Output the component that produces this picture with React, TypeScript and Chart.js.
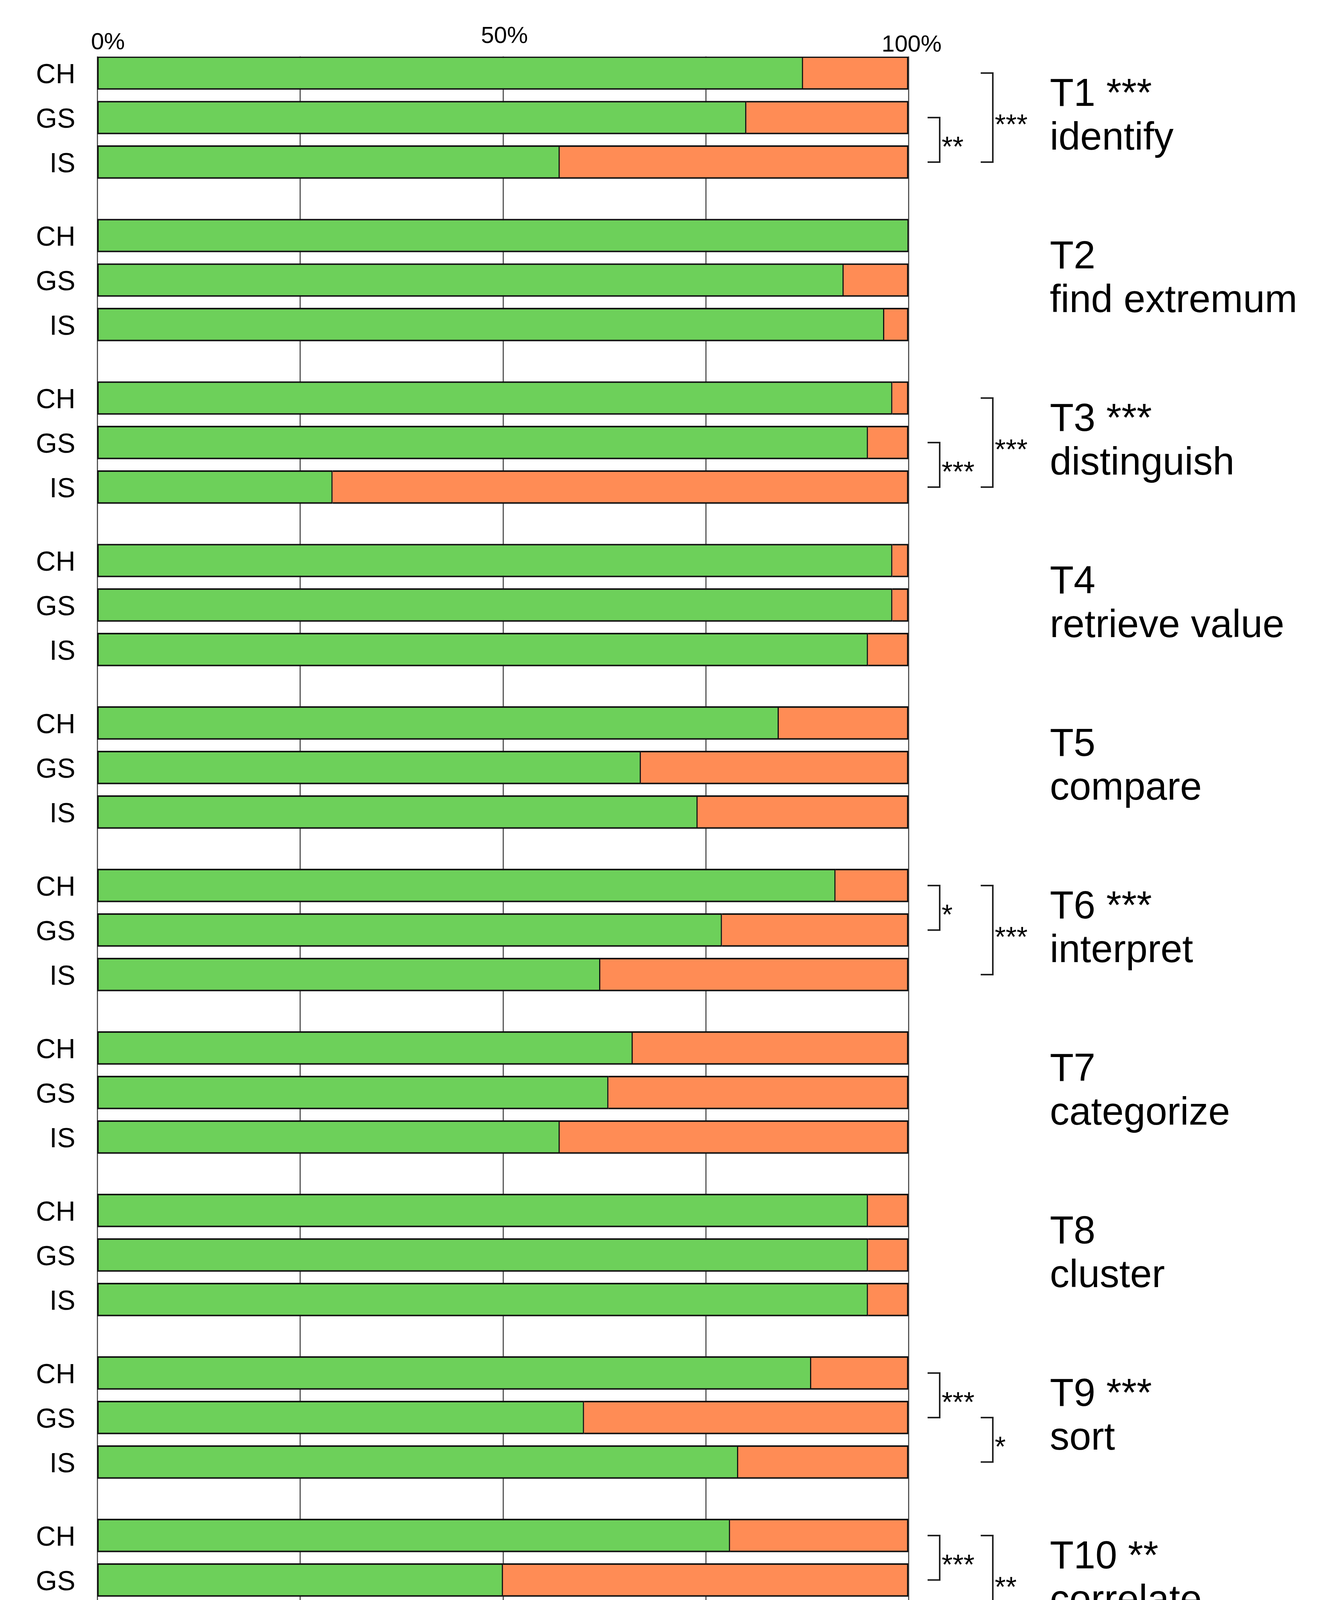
import React, { useEffect, useRef } from 'react';
import { Chart, registerables } from 'chart.js';

Chart.register(...registerables);

// ---------- data ----------
const TASKS = ['T1', 'T2', 'T3', 'T4', 'T5', 'T6', 'T7', 'T8', 'T9', 'T10', 'T11'];
const TASK_STARS = ['***', '', '***', '', '', '***', '', '', '***', '**', ''];
const TASK_NAMES = [
  'identify',
  'find extremum',
  'distinguish',
  'retrieve value',
  'compare',
  'interpret',
  'categorize',
  'cluster',
  'sort',
  'correlate',
  'locate',
];
const MAPS = ['CH', 'GS', 'IS'];
const CH_CORRECT = [87, 100, 98, 98, 84, 91, 66, 95, 88, 78, 89];
const GS_CORRECT = [80, 92, 95, 98, 67, 77, 63, 95, 60, 50, 77];
const IS_CORRECT = [57, 97, 29, 95, 74, 62, 57, 95, 79, 54, 75];

const LEGEND_LABELS = ['correct answer', 'incorrect answer'];
const LEGEND_SPLIT = 50;

const X_TICK_VALUES = [0, 50, 100];
const X_TICK_LABELS = ['0%', '50%', '100%'];
const GRID_VALUES = [0, 25, 50, 75, 100];

// significance brackets: task index, from map, to map, column (0 inner, 1 outer), label
const SIG_TASK = [0, 0, 2, 2, 5, 5, 8, 8, 9, 9];
const SIG_FROM = [1, 0, 1, 0, 0, 0, 0, 1, 0, 0];
const SIG_TO = [2, 2, 2, 2, 1, 2, 1, 2, 1, 2];
const SIG_COL = [0, 1, 0, 1, 0, 1, 0, 1, 0, 1];
const SIG_LABEL = ['**', '***', '***', '***', '*', '***', '***', '*', '***', '**'];

const NOTES = [
  'CH: choropleth map, GS: graduated symbols map; IS: isoline map',
  'statistical significance: *** p < 0.001, ** p < 0.010, * p < 0.050',
];

// ---------- layout (not data) ----------
const W = 3413;
const H = 5142;
const GROUP_STEP = 3.65;
const LEGEND_POS = 39.82;
const Y_MIN = -0.3685;
const Y_MAX = 40.195;
const BAR_THICK = 85;
const FONT = '"Liberation Sans", Arial, Helvetica, sans-serif';
const GREEN = '#6dd05a';
const ORANGE = '#ff8c55';
const EDGE = '#111111';

export default function App() {
  const ref = useRef<HTMLCanvasElement | null>(null);

  useEffect(() => {
    document.body.style.margin = '0';
    const canvas = ref.current;
    if (!canvas) return;

    const series = [CH_CORRECT, GS_CORRECT, IS_CORRECT];
    const rows: { pos: number; v: number; map: number }[] = [];
    TASKS.forEach((_, g) => {
      MAPS.forEach((__, k) => {
        rows.push({ pos: g * GROUP_STEP + k, v: series[k][g], map: k });
      });
    });

    const correctData = rows.map((r) => ({ x: r.v, y: r.pos }));
    correctData.push({ x: LEGEND_SPLIT, y: LEGEND_POS });
    const wrongData = rows.map((r) => ({ x: 100 - r.v, y: r.pos }));
    wrongData.push({ x: 100 - LEGEND_SPLIT, y: LEGEND_POS });

    const decor = {
      id: 'decor',
      beforeDatasetsDraw(chart: any) {
        const ctx = chart.ctx;
        const xs = chart.scales.x;
        const ys = chart.scales.y;
        const top = ys.getPixelForValue(0) - BAR_THICK / 2;
        const bottom = ys.getPixelForValue((TASKS.length - 1) * GROUP_STEP + 2) + BAR_THICK / 2;
        ctx.save();
        ctx.strokeStyle = '#555555';
        ctx.lineWidth = 3;
        GRID_VALUES.forEach((v) => {
          const x = Math.round(xs.getPixelForValue(v)) + 0.5;
          ctx.beginPath();
          ctx.moveTo(x, top);
          ctx.lineTo(x, bottom);
          ctx.stroke();
        });
        ctx.restore();
      },
      afterDraw(chart: any) {
        const ctx = chart.ctx;
        const xs = chart.scales.x;
        const ys = chart.scales.y;
        const right = chart.chartArea.right;
        ctx.save();
        ctx.fillStyle = '#000';

        // x tick labels (staggered like the original)
        ctx.font = `60px ${FONT}`;
        const tickAlign = ['left', 'center', 'center'];
        const tickDx = [-16, 4, 8];
        const tickBase = [126, 110, 132];
        X_TICK_VALUES.forEach((v, i) => {
          ctx.textAlign = tickAlign[i];
          ctx.textBaseline = 'alphabetic';
          ctx.fillText(X_TICK_LABELS[i], xs.getPixelForValue(v) + tickDx[i], tickBase[i]);
        });

        // map labels
        ctx.font = `70px ${FONT}`;
        ctx.textAlign = 'right';
        rows.forEach((r) => {
          ctx.fillText(MAPS[r.map], xs.getPixelForValue(0) - 56, ys.getPixelForValue(r.pos) + 26);
        });

        // task titles
        ctx.font = `100px ${FONT}`;
        ctx.textAlign = 'left';
        TASKS.forEach((t, g) => {
          const c = ys.getPixelForValue(g * GROUP_STEP + 1);
          const title = TASK_STARS[g] ? `${t} ${TASK_STARS[g]}` : t;
          ctx.fillText(title, right + 362, c - 30);
          ctx.fillText(TASK_NAMES[g], right + 362, c + 82);
        });

        // significance brackets
        ctx.strokeStyle = '#222';
        ctx.lineWidth = 4;
        ctx.font = `72px ${FONT}`;
        SIG_TASK.forEach((g, i) => {
          const y1 = ys.getPixelForValue(g * GROUP_STEP + SIG_FROM[i]);
          const y2 = ys.getPixelForValue(g * GROUP_STEP + SIG_TO[i]);
          const xv = right + (SIG_COL[i] === 0 ? 80 : 216);
          ctx.beginPath();
          ctx.moveTo(xv - 31, y1);
          ctx.lineTo(xv, y1);
          ctx.lineTo(xv, y2);
          ctx.lineTo(xv - 31, y2);
          ctx.stroke();
          ctx.fillText(SIG_LABEL[i], xv + 5, (y1 + y2) / 2 + 42);
        });

        // legend labels
        ctx.font = `64px ${FONT}`;
        ctx.textAlign = 'center';
        ctx.fillText(LEGEND_LABELS[0], xs.getPixelForValue(LEGEND_SPLIT / 2), 4840);
        ctx.fillText(LEGEND_LABELS[1], xs.getPixelForValue((100 + LEGEND_SPLIT) / 2), 4840);

        // notes
        ctx.font = `66px ${FONT}`;
        ctx.textAlign = 'left';
        ctx.fillText(NOTES[0], xs.getPixelForValue(0), 4965);
        ctx.fillText(NOTES[1], xs.getPixelForValue(0), 5063);
        ctx.restore();
      },
    };

    const chart = new Chart(canvas, {
      type: 'bar',
      data: {
        datasets: [
          {
            label: LEGEND_LABELS[0],
            data: correctData,
            backgroundColor: GREEN,
            borderColor: EDGE,
            borderWidth: { top: 4, bottom: 4, left: 4, right: 3 },
            borderSkipped: false,
            barThickness: BAR_THICK,
          },
          {
            label: LEGEND_LABELS[1],
            data: wrongData,
            backgroundColor: ORANGE,
            borderColor: EDGE,
            borderWidth: { top: 4, bottom: 4, left: 0, right: 4 },
            borderSkipped: false,
            barThickness: BAR_THICK,
          },
        ],
      } as any,
      options: {
        indexAxis: 'y',
        animation: false,
        responsive: false,
        maintainAspectRatio: false,
        layout: { padding: { left: 249, right: W - 2326, top: 145, bottom: H - 4768 } },
        plugins: { legend: { display: false }, tooltip: { enabled: false } },
        scales: {
          x: { type: 'linear', min: 0, max: 100, stacked: true, display: false, offset: false },
          y: {
            type: 'linear',
            min: Y_MIN,
            max: Y_MAX,
            reverse: true,
            stacked: true,
            display: false,
            offset: false,
            grace: 0,
          },
        },
      } as any,
      plugins: [decor],
    });

    return () => chart.destroy();
  }, []);

  return (
    <div style={{ width: W, height: H, background: '#fff' }}>
      <canvas ref={ref} width={W} height={H} style={{ display: 'block', width: W, height: H }} />
    </div>
  );
}
